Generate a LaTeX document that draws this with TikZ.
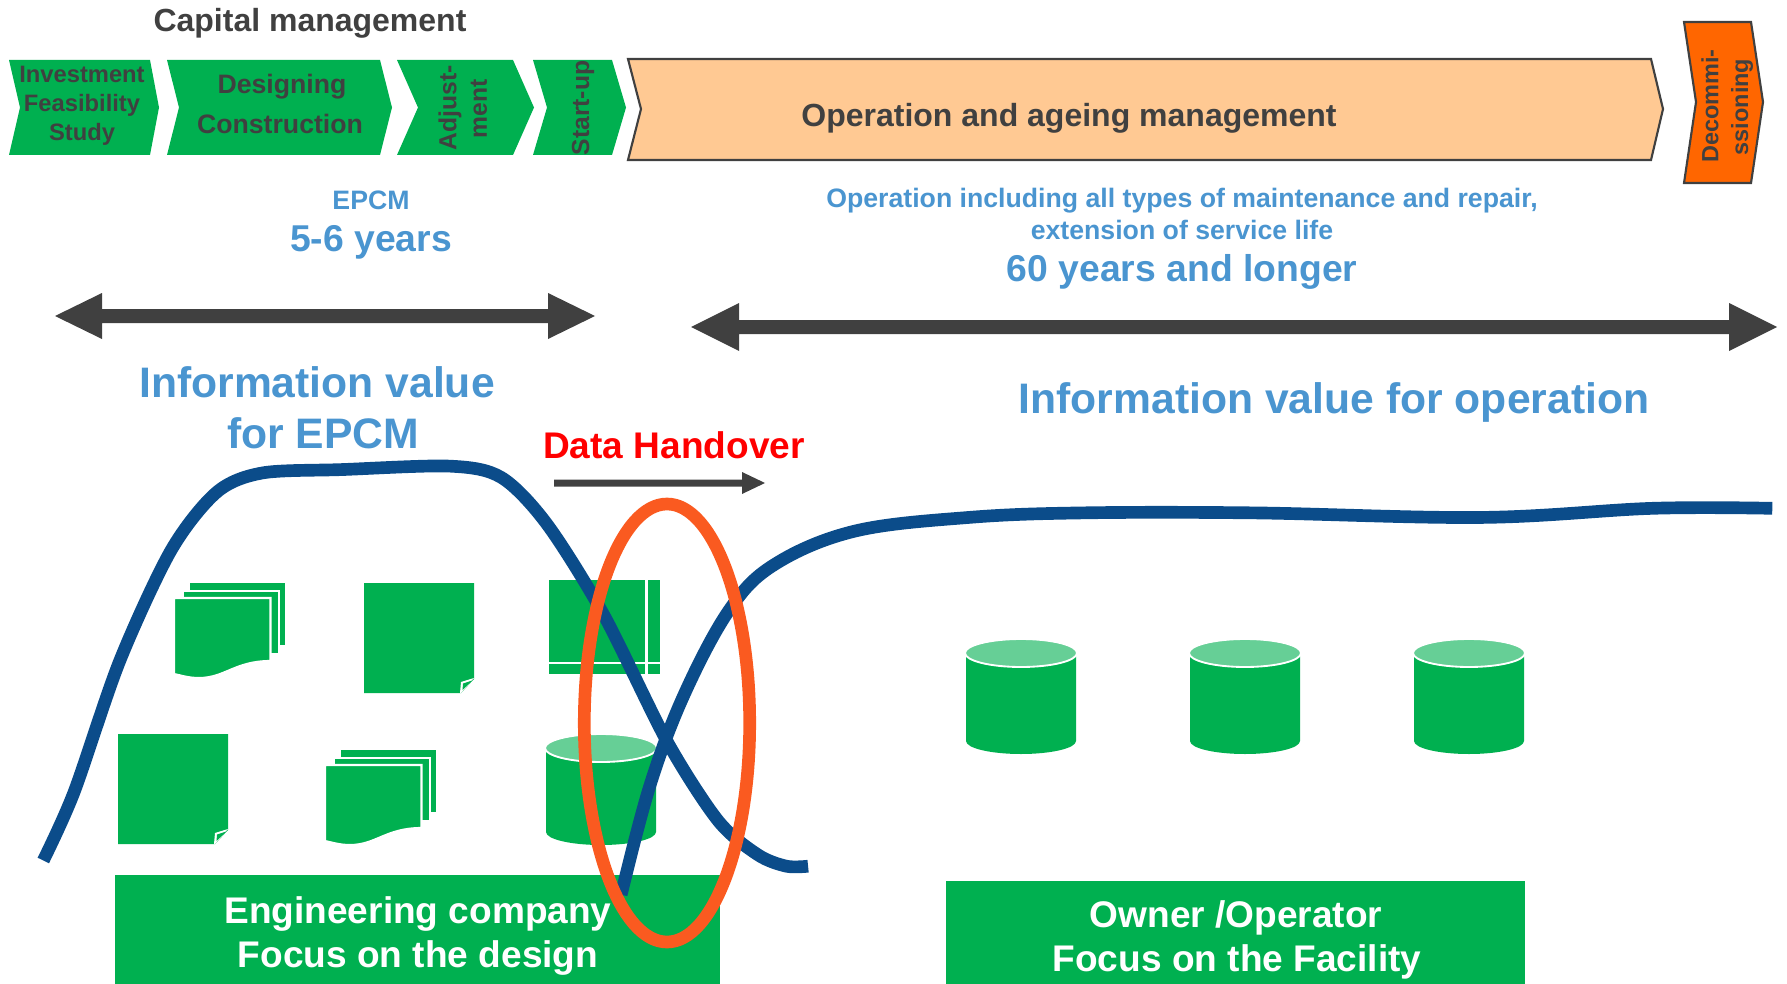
\documentclass[tikz,border=0pt]{standalone}
\usepackage{fontspec}
\setmainfont{Liberation Sans}
\definecolor{dgreen}{HTML}{00B050}
\definecolor{lgreen}{HTML}{66CF96}
\definecolor{peach}{HTML}{FFC993}
\definecolor{orangeb}{HTML}{FF6600}
\definecolor{dgrey}{HTML}{404040}
\definecolor{lblue}{HTML}{4A95D0}
\definecolor{curveblue}{HTML}{0B4C8A}
\definecolor{ovalred}{HTML}{FA5A20}
\newcommand{\fsz}[1]{\fontsize{#1pt}{#1pt}\selectfont\bfseries}
\tikzset{
  lbl/.style={inner sep=0pt,align=center},
  txtdark/.style={lbl,text=dgrey},
  txtblue/.style={lbl,text=lblue},
  txtwhite/.style={lbl,text=white},
  flow/.style={line width=9.5,color=curveblue,line join=round,line cap=butt},
  bigarrow/.style={fill=dgrey,draw=none},
  greenshape/.style={fill=dgreen,draw=none},
  page/.style={fill=dgreen,draw=white,line width=1.6},
  actorbox/.style={fill=dgreen,inner sep=0pt},
}
\newcommand{\chev}[8]{\path[#8] (#1,#5) -- (#2,#5) -- (#3,#7) -- (#2,#6) -- (#1,#6) -- (#4,#7) -- cycle;}
\newcommand{\stack}[2]{
\begin{scope}[shift={(#1,#2)}]
\path[greenshape] (15,-16) rectangle (110,46);
\path[page] (8,-8) -- (104,-8) -- (104,55) -- (8,55) -- cycle;
\path[page] (-1,-1) -- (95.5,-1) -- (95.5,62) .. controls (60,62) and (50,79) .. (24,79) .. controls (14,79) and (8,77) .. (-1,75) -- cycle;
\end{scope}}
\newcommand{\sheet}[2]{
\begin{scope}[shift={(#1,#2)}]
\path[greenshape] (0,0) -- (110,0) -- (110,96) -- (97,110) -- (0,110) -- cycle;
\path[fill=white] (110,95) -- (97,99) -- (96,110) -- (97,110) -- cycle;
\path[fill=dgreen] (108,97.5) -- (99,100.5) -- (98.5,107) -- cycle;
\end{scope}}
\newcommand{\cyl}[3]{
\begin{scope}[shift={(#1,#2)}]
\path[greenshape] (0,13) -- (0,#3) arc[start angle=180,end angle=0,x radius=55,y radius=13] -- (110,13) -- cycle;
\path[fill=lgreen,draw=white,line width=1.4] (55,13) ellipse[x radius=56,y radius=14];
\end{scope}}
\begin{document}
\begin{tikzpicture}[x=0.75pt,y=-0.75pt]
\useasboundingbox (0,0) rectangle (1787,984);
\node[txtdark] (capital) at (310,23) {\fsz{24}Capital management};
\chev{9}{150}{159}{20}{60}{155}{107.5}{greenshape}
\chev{167}{380}{392}{179}{60}{155}{107.5}{greenshape}
\chev{397}{513}{534}{418}{60}{155}{107.5}{greenshape}
\chev{533}{612}{626}{547}{60}{155}{107.5}{greenshape}
\chev{628}{1651}{1663}{641}{59}{160}{109}{fill=peach,draw=dgrey,line width=1.6}
\chev{1684}{1751}{1763}{1696}{22}{183}{102}{fill=orangeb,draw=dgrey,line width=1.6}
\node[txtdark] (investment) at (82,74) {\fsz{17.8}Investment};
\node[txtdark] (feasibility) at (82,105) {\fsz{17.8}Feasibility};
\node[txtdark] (study) at (82,134) {\fsz{17.8}Study};
\node[txtdark] (designing) at (282,87) {\fsz{20}Designing};
\node[txtdark] (construction) at (280,124) {\fsz{20}Construction};
\node[txtdark,rotate=90] (adjust) at (450,108) {\fsz{18.5}Adjust-};
\node[txtdark,rotate=90] (ment) at (479,109) {\fsz{18.5}ment};
\node[txtdark,rotate=90] (startup) at (583,108) {\fsz{18.5}Start-up};
\node[txtdark] (operation) at (1069,118) {\fsz{24}Operation and ageing management};
\node[txtdark,rotate=90] (decommi) at (1710,106) {\fsz{17.6}Decommi-};
\node[txtdark,rotate=90] (ssioning) at (1742,107) {\fsz{17.6}ssioning};
\node[txtblue] (epcm) at (371,200) {\fsz{20}EPCM};
\node[txtblue] (years56) at (371,242) {\fsz{28}5-6 years};
\node[txtblue] (opincl) at (1182,201) {\fsz{20}Operation including all types of maintenance and repair,};
\node[txtblue] (extension) at (1182,230) {\fsz{20}extension of service life};
\node[txtblue] (years60) at (1182,272) {\fsz{28}60 years and longer};
\path[bigarrow] (55,316) -- (102,293) -- (102,309) -- (548,309) -- (548,293) -- (595,316) -- (548,339) -- (548,323) -- (102,323) -- (102,339) -- cycle;
\path[bigarrow] (691,327) -- (739,303) -- (739,320) -- (1729,320) -- (1729,303) -- (1777,327) -- (1729,351) -- (1729,334) -- (739,334) -- (739,351) -- cycle;
\node[txtblue] (infoepcm) at (317,382) {\fsz{32}Information value};
\node[txtblue] (forepcm) at (323,433) {\fsz{32}for EPCM};
\node[txtblue] (infoop) at (1334,402) {\fsz{32}Information value for operation};
\node[lbl,text=red] (handover) at (674,445) {\fsz{27.8}Data Handover};
\path[bigarrow] (554,479.5) -- (742,479.5) -- (742,472) -- (765,483) -- (742,494) -- (742,486.5) -- (554,486.5) -- cycle;
\stack{175}{599}
\stack{326}{766}
\sheet{364}{583}
\sheet{118}{734}
\path[greenshape] (549,580) rectangle (660,674);
\draw[color=white,line width=1.6] (549,663) -- (660,663) (646.5,580) -- (646.5,674);
\cyl{546}{735}{97}
\cyl{966}{640}{101}
\cyl{1190}{640}{101}
\cyl{1414}{640}{101}
\node[actorbox,minimum width=453.75pt,minimum height=81.75pt] (eng) at (417.5,929.5) {};
\node[actorbox,minimum width=434.25pt,minimum height=77.25pt] (own) at (1235.5,932.5) {};
\node[txtwhite] (engt1) at (418,914) {\fsz{27.8}Engineering company};
\node[txtwhite] (engt2) at (418,958) {\fsz{27.8}Focus on the design};
\node[txtwhite] (ownt1) at (1236,918) {\fsz{27.8}Owner /Operator};
\node[txtwhite] (ownt2) at (1237,962) {\fsz{27.8}Focus on the Facility};
\begin{scope}[x=0.8548pt,y=-0.8548pt]
\draw[flow] plot[smooth,tension=0.5] coordinates {(38,755)(65,695)(105,580)(150,483)(190,432)(230,415)(300,412)(395,409)(440,419)(480,460)(530,540)(585,650)(630,720)(665,750)(690,760)(709,760)};
\draw[flow] plot[smooth,tension=0.6] coordinates {(545,785)(570,690)(600,610)(640,535)(680,495)(750,466)(850,454)(950,450)(1100,450)(1300,454)(1450,446)(1555,446)};
\end{scope}
\path[draw=ovalred,line width=9.5] (667,723) ellipse[x radius=82.7,y radius=219];
\end{tikzpicture}
\end{document}
